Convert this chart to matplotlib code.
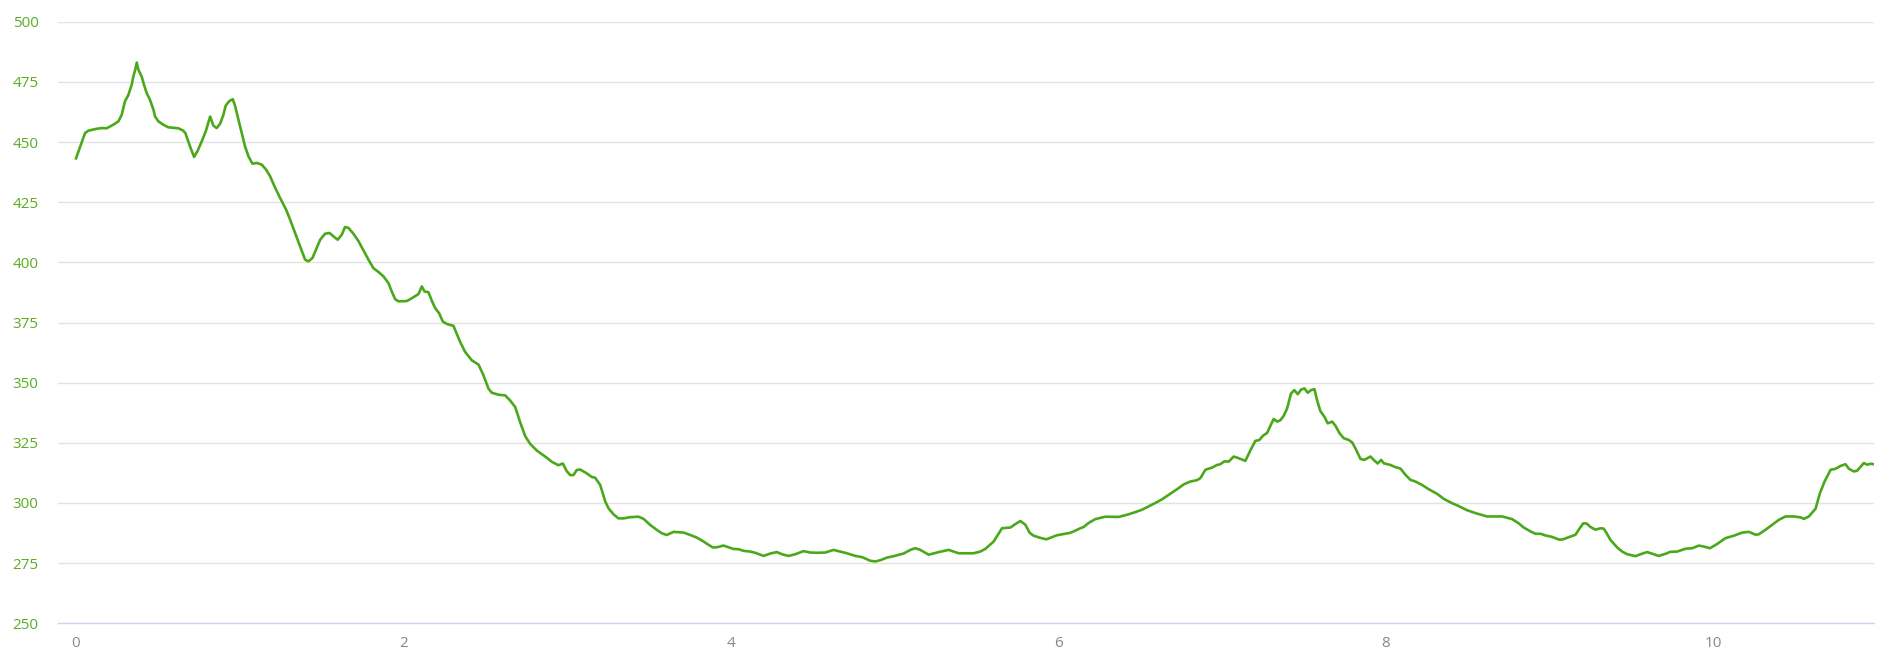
import matplotlib
matplotlib.use('Agg')
import matplotlib.pyplot as plt
import numpy as np

dist_km = [
    0.000, 0.055, 0.075, 0.126, 0.157, 0.187, 0.228, 0.259, 0.279, 0.299,
    0.320, 0.340, 0.350, 0.360, 0.371, 0.381, 0.401, 0.415, 0.432, 0.452,
    0.473, 0.483, 0.503, 0.533, 0.564, 0.594, 0.625, 0.655, 0.668, 0.696,
    0.721, 0.741, 0.768, 0.794, 0.819, 0.839, 0.859, 0.880, 0.900, 0.914,
    0.936, 0.957, 0.971, 0.992, 1.012, 1.032, 1.053, 1.077, 1.104, 1.134,
    1.161, 1.185, 1.216, 1.246, 1.283, 1.307, 1.338, 1.368, 1.399, 1.419,
    1.444, 1.470, 1.491, 1.521, 1.548, 1.572, 1.598, 1.623, 1.643, 1.664,
    1.694, 1.725, 1.755, 1.786, 1.816, 1.847, 1.877, 1.908, 1.928, 1.949,
    1.969, 2.020, 2.051, 2.091, 2.112, 2.128, 2.152, 2.173, 2.193, 2.217,
    2.240, 2.264, 2.305, 2.346, 2.376, 2.417, 2.458, 2.488, 2.519, 2.539,
    2.580, 2.621, 2.651, 2.682, 2.712, 2.743, 2.773, 2.814, 2.875, 2.906,
    2.946, 2.973, 2.997, 3.018, 3.038, 3.058, 3.079, 3.119, 3.150, 3.170,
    3.201, 3.232, 3.252, 3.282, 3.313, 3.344, 3.384, 3.435, 3.466, 3.506,
    3.547, 3.578, 3.608, 3.649, 3.710, 3.751, 3.792, 3.832, 3.863, 3.889,
    3.914, 3.954, 3.985, 4.015, 4.046, 4.077, 4.117, 4.148, 4.199, 4.240,
    4.280, 4.311, 4.351, 4.392, 4.443, 4.484, 4.525, 4.575, 4.626, 4.667,
    4.708, 4.759, 4.800, 4.850, 4.881, 4.911, 4.952, 4.993, 5.054, 5.095,
    5.125, 5.156, 5.207, 5.268, 5.329, 5.390, 5.481, 5.522, 5.553, 5.604,
    5.655, 5.706, 5.736, 5.767, 5.797, 5.824, 5.848, 5.889, 5.926, 5.960,
    5.991, 6.031, 6.072, 6.103, 6.133, 6.153, 6.184, 6.225, 6.286, 6.367,
    6.418, 6.469, 6.510, 6.551, 6.591, 6.632, 6.673, 6.703, 6.734, 6.764,
    6.805, 6.846, 6.866, 6.897, 6.938, 6.968, 6.988, 7.013, 7.039, 7.070,
    7.100, 7.141, 7.172, 7.202, 7.227, 7.249, 7.274, 7.294, 7.314, 7.335,
    7.355, 7.375, 7.396, 7.420, 7.440, 7.461, 7.481, 7.502, 7.522, 7.542,
    7.563, 7.579, 7.599, 7.624, 7.644, 7.671, 7.691, 7.717, 7.742, 7.772,
    7.793, 7.813, 7.844, 7.868, 7.905, 7.925, 7.949, 7.970, 7.986, 8.027,
    8.057, 8.088, 8.119, 8.149, 8.180, 8.220, 8.261, 8.312, 8.353, 8.404,
    8.444, 8.495, 8.546, 8.617, 8.709, 8.770, 8.811, 8.841, 8.882, 8.913,
    8.943, 8.974, 9.014, 9.061, 9.086, 9.116, 9.157, 9.177, 9.204, 9.224,
    9.249, 9.279, 9.310, 9.330, 9.351, 9.371, 9.412, 9.442, 9.473, 9.524,
    9.554, 9.595, 9.626, 9.666, 9.707, 9.737, 9.778, 9.829, 9.870, 9.910,
    9.941, 9.978, 10.023, 10.073, 10.124, 10.175, 10.216, 10.257, 10.277, 10.318,
    10.358, 10.399, 10.440, 10.491, 10.532, 10.552, 10.582, 10.623, 10.650, 10.678,
    10.715, 10.745, 10.776, 10.806, 10.827, 10.857, 10.877, 10.918, 10.939, 10.959,
    10.980,
]

altitud_m = [
    443.2, 453.7, 454.7, 455.5, 455.8, 455.7, 457.2, 458.6, 461.3, 466.9,
    469.6, 473.8, 477.2, 479.6, 483.0, 480.0, 477.2, 473.8, 470.3, 467.5,
    463.4, 460.6, 458.6, 457.2, 456.1, 455.9, 455.7, 454.7, 453.7, 448.2,
    443.8, 446.1, 450.3, 454.8, 460.6, 456.8, 455.8, 457.6, 461.3, 465.1,
    467.0, 467.8, 465.1, 459.3, 453.7, 448.2, 444.1, 441.0, 441.3, 440.6,
    438.5, 435.8, 431.0, 426.8, 421.9, 417.8, 412.2, 406.7, 401.1, 400.4,
    401.8, 406.0, 409.4, 411.9, 412.2, 410.8, 409.4, 411.5, 414.7, 414.3,
    411.9, 408.8, 405.0, 401.1, 397.6, 396.0, 394.2, 391.4, 387.9, 384.7,
    383.8, 383.9, 385.1, 386.8, 390.0, 387.9, 387.6, 384.0, 381.0, 378.9,
    375.4, 374.4, 373.6, 366.9, 362.8, 359.3, 357.5, 353.1, 347.5, 345.8,
    345.0, 344.7, 342.6, 339.9, 333.6, 327.8, 324.6, 321.8, 318.8, 317.1,
    315.7, 316.4, 313.2, 311.6, 311.6, 313.7, 313.9, 312.3, 310.8, 310.5,
    307.5, 300.6, 297.8, 295.3, 293.6, 293.6, 294.1, 294.3, 293.4, 290.9,
    288.8, 287.4, 286.7, 288.0, 287.7, 286.7, 285.6, 284.0, 282.6, 281.5,
    281.6, 282.3, 281.6, 280.9, 280.8, 280.1, 279.8, 279.3, 278.0, 279.0,
    279.6, 278.7, 278.0, 278.7, 280.0, 279.4, 279.3, 279.4, 280.5, 279.8,
    279.1, 278.0, 277.5, 276.0, 275.7, 276.2, 277.3, 277.9, 279.0, 280.5,
    281.2, 280.5, 278.5, 279.6, 280.5, 279.1, 279.1, 279.8, 280.9, 284.0,
    289.5, 289.8, 291.2, 292.5, 291.0, 287.6, 286.4, 285.5, 284.9, 285.8,
    286.6, 287.1, 287.6, 288.5, 289.5, 290.0, 291.7, 293.3, 294.3, 294.2,
    295.1, 296.2, 297.2, 298.6, 300.0, 301.5, 303.4, 304.8, 306.2, 307.7,
    308.9, 309.5, 310.3, 313.8, 314.7, 315.8, 316.1, 317.3, 317.2, 319.3,
    318.6, 317.5, 321.9, 325.8, 326.2, 328.0, 329.1, 332.1, 334.9, 333.8,
    334.4, 336.2, 339.3, 345.5, 346.9, 345.2, 347.1, 347.6, 345.8, 346.9,
    347.3, 342.7, 338.2, 335.8, 333.1, 333.8, 332.1, 328.9, 326.9, 326.2,
    325.2, 322.7, 318.3, 317.9, 319.3, 317.9, 316.4, 317.9, 316.5, 315.8,
    314.9, 314.3, 311.7, 309.6, 308.9, 307.5, 305.7, 303.8, 301.7, 299.9,
    298.7, 297.0, 295.8, 294.4, 294.4, 293.3, 291.5, 289.8, 288.2, 287.2,
    287.2, 286.5, 285.9, 284.7, 285.0, 285.8, 286.8, 288.9, 291.5, 291.5,
    290.0, 288.9, 289.5, 289.3, 287.0, 284.6, 281.5, 279.8, 278.7, 277.9,
    278.7, 279.6, 278.9, 278.0, 278.9, 279.7, 279.8, 281.0, 281.2, 282.3,
    281.9, 281.2, 283.0, 285.4, 286.4, 287.7, 288.0, 286.8, 287.0, 288.9,
    290.9, 293.0, 294.4, 294.4, 294.0, 293.4, 294.4, 297.6, 304.1, 308.9,
    313.8, 314.2, 315.4, 316.1, 314.2, 313.1, 313.4, 316.6, 315.9, 316.3,
    316.1,
]

yticks = [250, 275, 300, 325, 350, 375, 400, 425, 450, 475, 500]
xticks = [0, 2, 4, 6, 8, 10]

plt.rcParams['font.family'] = ['Open Sans', 'DejaVu Sans']

fig = plt.figure(figsize=(18.83, 6.64), dpi=100)
ax = fig.add_axes([58 / 1883, 1 - 623.3 / 664, (1874 - 58) / 1883, (623.3 - 21.7) / 664])

ax.plot(dist_km, altitud_m, color='#4aa81a', linewidth=1.9, solid_joinstyle='round')

ax.set_xlim(-0.110, 10.98)
ax.set_ylim(250, 500)
ax.set_yticks(yticks)
ax.set_xticks(xticks)

ax.grid(axis='y', color='#e3e3e3', linewidth=1.0)
ax.set_axisbelow(True)

for s in ['top', 'right', 'left']:
    ax.spines[s].set_visible(False)
ax.spines['bottom'].set_color('#ccd6eb')
ax.spines['bottom'].set_linewidth(1.0)

ax.tick_params(axis='y', length=0, pad=14, labelsize=11, labelcolor='#5aad22')
ax.tick_params(axis='x', length=0, pad=9, labelsize=11, labelcolor='#888888')

fig.savefig('out.png', dpi=100)
